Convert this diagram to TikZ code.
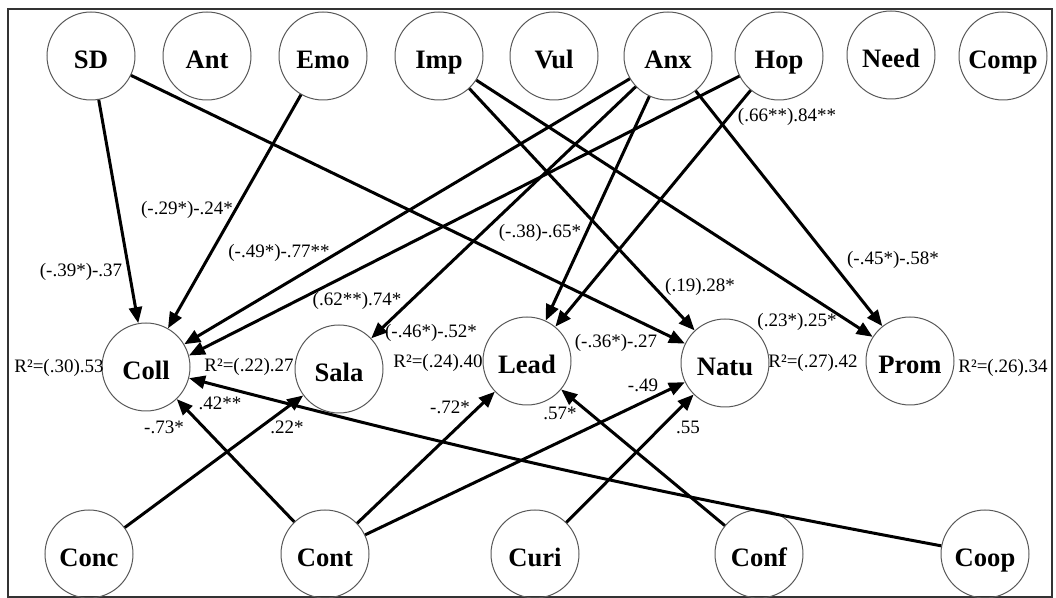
\documentclass[tikz,border=0pt]{standalone}
\usepackage{fontspec}
\setmainfont{Liberation Serif}
\usetikzlibrary{arrows.meta}

\begin{document}
\begin{tikzpicture}[x=0.5pt, y=-0.5pt,
    var/.style={circle, draw=black!65, line width=0.5pt, minimum size=44pt, inner sep=0pt, text height=13pt, text depth=0.5pt, font=\fontsize{13.3}{15}\selectfont\bfseries},
    effect/.style={line width=1.5pt, -{Triangle[length=8pt, width=6.5pt]}},
    coef/.style={font=\fontsize{9.5}{11}\selectfont, inner sep=0pt}]
    \useasboundingbox (0, 0) rectangle (1056, 598);
    \draw [line width=1.2pt, black!80] (8, 9) rectangle (1052, 597);

    \node [var] (SD) at (91, 56) {SD};
    \node [var] (Ant) at (207, 56) {Ant};
    \node [var] (Emo) at (323, 56) {Emo};
    \node [var] (Imp) at (439, 56) {Imp};
    \node [var] (Vul) at (554, 56) {Vul};
    \node [var] (Anx) at (668, 56) {Anx};
    \node [var] (Hop) at (779, 56) {Hop};
    \node [var] (Need) at (891, 55) {Need};
    \node [var] (Comp) at (1003, 56) {Comp};

    \node [var] (Coll) at (146, 367) {Coll};
    \node [var] (Sala) at (339, 369) {Sala};
    \node [var] (Lead) at (527, 361) {Lead};
    \node [var] (Natu) at (725, 363) {Natu};
    \node [var] (Prom) at (910, 361) {Prom};

    \node [var] (Conc) at (89, 554) {Conc};
    \node [var] (Cont) at (325, 554) {Cont};
    \node [var] (Curi) at (535, 554) {Curi};
    \node [var] (Conf) at (759, 554) {Conf};
    \node [var] (Coop) at (985, 554) {Coop};

    \draw [effect] (SD) -- (Coll);
    \draw [effect] (SD) -- (Natu);
    \draw [effect] (Emo) -- (Coll);
    \draw [effect] (Anx) -- (Coll);
    \draw [effect] (Hop) -- (Coll.15);
    \draw [effect] (Anx) -- (Sala);
    \draw [effect] (Anx) -- (Lead);
    \draw [effect] (Hop) -- (Lead);
    \draw [effect] (Anx) -- (Prom);
    \draw [effect] (Imp) -- (Natu);
    \draw [effect] (Imp) -- (Prom);
    \draw [effect] (Conc) -- (Sala);
    \draw [effect] (Cont) -- (Coll);
    \draw [effect] (Cont) -- (Lead);
    \draw [effect] (Cont) -- (Natu);
    \draw [effect] (Curi) -- (Natu);
    \draw [effect] (Conf) -- (Lead);
    \draw [effect] (Coop) to[bend left=2] (Coll);

    \node [coef] (cSDColl) at (81, 272) {(-.39*)-.37};
    \node [coef] (cEmoColl) at (187, 210) {(-.29*)-.24*};
    \node [coef] (cAnxColl) at (279, 253) {(-.49*)-.77**};
    \node [coef] (cHopColl) at (357, 301) {(.62**).74*};
    \node [coef] (cAnxSala) at (431, 333) {(-.46*)-.52*};
    \node [coef] (cAnxLead) at (540, 233) {(-.38)-.65*};
    \node [coef] (cHopLead) at (787, 117) {(.66**).84**};
    \node [coef] (cImpNatu) at (700, 287) {(.19).28*};
    \node [coef] (cAnxProm) at (893, 260) {(-.45*)-.58*};
    \node [coef] (cImpProm) at (797, 322) {(.23*).25*};
    \node [coef] (cSDNatu) at (616, 343) {(-.36*)-.27};
    \node [coef] (cContNatu) at (643, 385) {-.49};
    \node [coef] (cConfLead) at (560, 413) {.57*};
    \node [coef] (cCuriNatu) at (688, 427) {.55};
    \node [coef] (cContLead) at (450, 407) {-.72*};
    \node [coef] (cCoopColl) at (220, 403) {.42**};
    \node [coef] (cContColl) at (164, 427) {-.73*};
    \node [coef] (cConcSala) at (287, 427) {.22*};

    \node [coef] (rColl) at (59, 368) {R²=(.30).53};
    \node [coef] (rSala) at (249, 367) {R²=(.22).27};
    \node [coef] (rLead) at (438, 363) {R²=(.24).40};
    \node [coef] (rNatu) at (813, 363) {R²=(.27).42};
    \node [coef] (rProm) at (1003, 368) {R²=(.26).34};
\end{tikzpicture}
\end{document}
